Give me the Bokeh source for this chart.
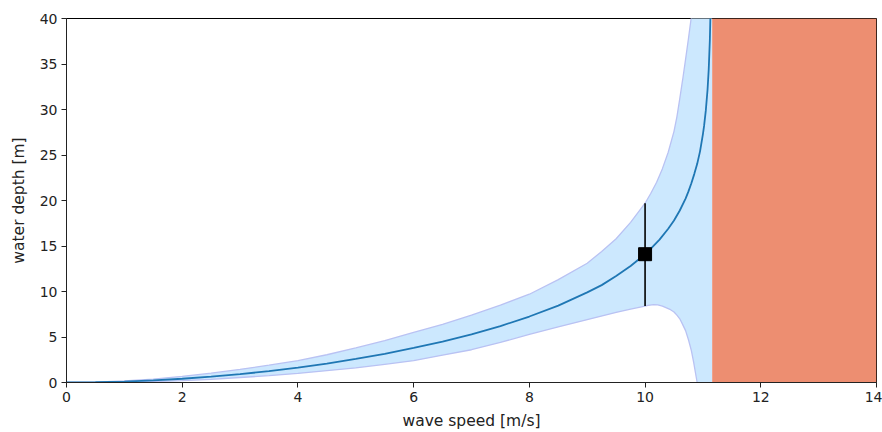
from bokeh.plotting import figure
from bokeh.models import FixedTicker, Range1d
from bokeh.embed import file_html
from bokeh.resources import INLINE

# main curve: water depth vs wave speed
speed = [0, 0.5, 1, 1.5, 2, 2.5, 3, 3.5, 4, 4.5, 5, 5.5, 6, 6.5, 7, 7.5, 8, 8.5, 9, 9.25,
         9.5, 9.75, 10, 10.1, 10.25, 10.4, 10.5, 10.6, 10.7, 10.75, 10.8, 10.85, 10.9,
         10.95, 11.0, 11.02, 11.05, 11.08, 11.1, 11.12, 11.13]
depth = [0, 0.03, 0.10, 0.23, 0.41, 0.64, 0.92, 1.25, 1.64, 2.08, 2.6, 3.15, 3.8, 4.5, 5.3,
         6.2, 7.25, 8.45, 9.9, 10.7, 11.7, 12.8, 14.1, 14.7, 15.7, 16.9, 17.8, 18.9, 20.2,
         21.0, 21.9, 22.9, 24.0, 25.4, 27.3, 28.2, 29.9, 32.2, 34.4, 37.7, 40.5]

# uncertainty band
upper_speed = [0, 0.5, 1, 1.5, 2, 2.5, 3, 3.5, 4, 4.5, 5, 5.5, 6, 6.5, 7, 7.5, 8, 8.5, 9,
               9.25, 9.5, 9.75, 10, 10.1, 10.2, 10.3, 10.4, 10.5, 10.55, 10.6, 10.65, 10.7,
               10.75, 10.8, 10.85, 10.9]
upper_depth = [0, 0.05, 0.17, 0.38, 0.68, 1.03, 1.45, 1.9, 2.4, 3.05, 3.8, 4.6, 5.5, 6.4,
               7.4, 8.5, 9.7, 11.3, 13.1, 14.4, 15.8, 17.6, 19.7, 20.8, 22.0, 23.5, 25.3,
               27.6, 29.2, 31.2, 33.3, 35.5, 37.8, 40.2, 43, 46]
lower_speed = [0, 0.5, 1, 1.5, 2, 2.5, 3, 3.5, 4, 4.5, 5, 5.5, 6, 6.5, 7, 7.5, 8, 8.5, 9,
               9.5, 9.75, 10, 10.05, 10.15, 10.22, 10.3, 10.44, 10.5, 10.55, 10.6, 10.64,
               10.7, 10.75, 10.8, 10.84, 10.87, 10.9]
lower_depth = [0, 0.01, 0.05, 0.11, 0.2, 0.35, 0.55, 0.75, 1.0, 1.3, 1.6, 2.0, 2.4, 3.0,
               3.6, 4.4, 5.3, 6.1, 6.9, 7.7, 8.07, 8.4, 8.47, 8.55, 8.52, 8.4, 8.0, 7.75,
               7.4, 7.0, 6.5, 5.7, 4.7, 3.5, 2.2, 1.1, 0]

max_speed = 11.16          # limit of possible wave speed
band_top = 46

# measurement with error bar
meas_speed = [10]
meas_depth = [14.1]
meas_low = [8.4]
meas_high = [19.7]

x_ticks = [0, 2, 4, 6, 8, 10, 12, 14]
y_ticks = [0, 5, 10, 15, 20, 25, 30, 35, 40]

p = figure(width=882, height=432, output_backend="svg", toolbar_location=None,
           x_range=Range1d(0, 14), y_range=Range1d(0, 40),
           min_border_left=66, min_border_right=6, min_border_top=18, min_border_bottom=49)

# band
poly_x = upper_speed + [max_speed, max_speed] + lower_speed[::-1]
poly_y = upper_depth + [band_top, 0] + lower_depth[::-1]
p.patch(poly_x, poly_y, fill_color="#cce8fe", line_color=None)
p.line(upper_speed, upper_depth, line_color="#b9c2f3", line_width=1.3)
p.line(lower_speed, lower_depth, line_color="#b9c2f3", line_width=1.3)

# impossible region
p.quad(left=[max_speed], right=[14], bottom=[0], top=[40],
       fill_color="#ed8e71", line_color=None)

p.line(speed, depth, line_color="#1f77b4", line_width=1.8)

p.segment(x0=meas_speed, y0=meas_low, x1=meas_speed, y1=meas_high,
          line_color="black", line_width=1.6)
p.scatter(meas_speed, meas_depth, marker="square", size=13,
          fill_color="black", line_color="black")

p.xgrid.visible = False
p.ygrid.visible = False
p.outline_line_color = "black"
p.outline_line_width = 1
p.background_fill_color = "white"
p.border_fill_color = "white"

p.xaxis.ticker = FixedTicker(ticks=x_ticks)
p.yaxis.ticker = FixedTicker(ticks=y_ticks)
p.xaxis.axis_label = "wave speed [m/s]"
p.yaxis.axis_label = "water depth [m]"
for ax in (p.xaxis, p.yaxis):
    ax.major_label_text_font = "DejaVu Sans"
    ax.major_label_text_font_size = "14px"
    ax.major_label_text_color = "#222222"
    ax.axis_label_text_font = "DejaVu Sans"
    ax.axis_label_text_font_size = "15.5px"
    ax.axis_label_text_font_style = "normal"
    ax.axis_label_text_color = "#222222"
    ax.minor_tick_line_color = None
    ax.major_tick_in = 0
    ax.major_tick_out = 5
    ax.major_tick_line_color = "#222222"
    ax.axis_line_color = "#222222"
    ax.major_label_standoff = 4
p.xaxis.axis_label_standoff = 7
p.yaxis.axis_label_standoff = 9

open("out.html", "w").write(file_html(p, INLINE))
